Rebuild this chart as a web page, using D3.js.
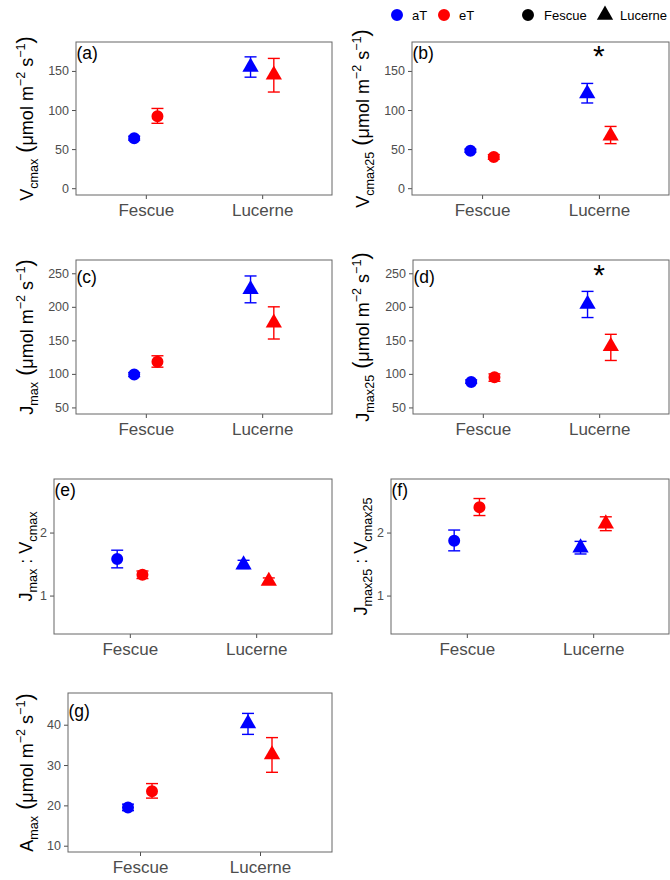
<!DOCTYPE html>
<html>
<head>
<meta charset="utf-8">
<script src="https://cdn.jsdelivr.net/npm/d3@7/dist/d3.min.js"></script>
<style>
  body { margin: 0; background: #fff; }
  svg { display: block; }
  text { font-family: "Liberation Sans", Arial, sans-serif; }
</style>
</head>
<body>
<div id="chart"></div>
<script>
// categories and treatments
const groups = ["Fescue", "Lucerne"];
const treatments = ["aT", "eT"];
const treatmentColours = ["#0000FF", "#FF0000"];

// values in order: Fescue aT, Fescue eT, Lucerne aT, Lucerne eT
const vcmaxMean = [64, 92, 155, 145];
const vcmaxLow = [61.5, 83, 142, 123];
const vcmaxHigh = [66.5, 102, 168, 166];

const vcmax25Mean = [48, 40, 121, 67];
const vcmax25Low = [46, 37, 109, 57];
const vcmax25High = [50, 43, 134, 79];

const jmaxMean = [99, 118, 226, 176];
const jmaxLow = [96, 110, 206, 152];
const jmaxHigh = [102, 127, 246, 200];

const jmax25Mean = [88, 95, 204, 141];
const jmax25Low = [86, 89, 184, 120];
const jmax25High = [91, 100, 223, 159];

const ratioMean = [1.58, 1.33, 1.49, 1.23];
const ratioLow = [1.44, 1.27, 1.43, 1.19];
const ratioHigh = [1.72, 1.39, 1.56, 1.28];

const ratio25Mean = [1.87, 2.4, 1.76, 2.14];
const ratio25Low = [1.71, 2.27, 1.66, 2.03];
const ratio25High = [2.04, 2.54, 1.86, 2.25];

const amaxMean = [19.5, 23.5, 40.3, 32.6];
const amaxLow = [18.7, 21.8, 37.6, 28.2];
const amaxHigh = [20.3, 25.4, 42.8, 36.8];

// tick labels
const ticksV = [0, 50, 100, 150];
const ticksJ = [50, 100, 150, 200, 250];
const ticksRatio = [1, 2];
const ticksA = [10, 20, 30, 40];

// significance stars (value on the y axis, at Lucerne)
const starVcmax25 = 177;
const starJmax25 = 256;

const unitParts = [
  [" (", "big"], ["μmol m", "n"], ["−2", "sup"], [" s", "n"], ["−1", "sup"], [")", "big"]
];

const panels = [
  { tag: "(a)", mean: vcmaxMean, low: vcmaxLow, high: vcmaxHigh, ticks: ticksV,
    yDomain: [-8.7, 187], box: [76, 42, 332, 195], titleX: 33, tagY: 17,
    title: [["V", "n"], ["cmax", "sub"]].concat(unitParts) },
  { tag: "(b)", mean: vcmax25Mean, low: vcmax25Low, high: vcmax25High, ticks: ticksV,
    yDomain: [-8.7, 187], box: [412, 42, 669, 195], titleX: 369, tagY: 17, star: starVcmax25,
    title: [["V", "n"], ["cmax25", "sub"]].concat(unitParts) },
  { tag: "(c)", mean: jmaxMean, low: jmaxLow, high: jmaxHigh, ticks: ticksJ,
    yDomain: [40.2, 269.8], box: [76, 260, 332, 414], titleX: 33, tagY: 23,
    title: [["J", "n"], ["max", "sub"]].concat(unitParts) },
  { tag: "(d)", mean: jmax25Mean, low: jmax25Low, high: jmax25High, ticks: ticksJ,
    yDomain: [40.2, 269.8], box: [413, 260, 669, 414], titleX: 369, tagY: 23, star: starJmax25,
    title: [["J", "n"], ["max25", "sub"]].concat(unitParts) },
  { tag: "(e)", mean: ratioMean, low: ratioLow, high: ratioHigh, ticks: ticksRatio,
    yDomain: [0.39, 2.85], box: [54, 479, 332, 634], titleX: 32, tagY: 16.5,
    title: [["J", "n"], ["max", "sub"], [" : V", "n"], ["cmax", "sub"]] },
  { tag: "(f)", mean: ratio25Mean, low: ratio25Low, high: ratio25High, ticks: ticksRatio,
    yDomain: [0.39, 2.85], box: [391, 479, 669, 634], titleX: 367, tagY: 16.5,
    title: [["J", "n"], ["max25", "sub"], [" : V", "n"], ["cmax25", "sub"]] },
  { tag: "(g)", mean: amaxMean, low: amaxLow, high: amaxHigh, ticks: ticksA,
    yDomain: [8.44, 47.86], box: [68, 693, 332, 852], titleX: 33, tagY: 24,
    title: [["A", "n"], ["max", "sub"]].concat(unitParts) }
];

const width = 670;
const height = 880;
const svg = d3.select("#chart").append("svg")
  .attr("width", width)
  .attr("height", height);

const borderColour = "#666";
const tickColour = "#4D4D4D";

panels.forEach((p) => {
  const [x0, y0, x1, y1] = p.box;
  const x = d3.scalePoint().domain(groups).range([x0, x1]).padding(0.6);
  const y = d3.scaleLinear().domain(p.yDomain).range([y1, y0]);
  const dodge = x.step() * 0.1;

  const g = svg.append("g");

  // y axis
  const yAxis = g.append("g")
    .attr("transform", `translate(${x0},0)`)
    .call(d3.axisLeft(y).tickValues(p.ticks).tickFormat(d3.format("~g")).tickSize(4).tickPadding(3));
  yAxis.select(".domain").remove();
  yAxis.selectAll("line").attr("stroke", tickColour);
  yAxis.selectAll("text")
    .attr("fill", tickColour)
    .style("font-size", "12.5px")
    .style("font-family", "'Liberation Sans', Arial, sans-serif");

  // x axis
  const xAxis = g.append("g")
    .attr("transform", `translate(0,${y1})`)
    .call(d3.axisBottom(x).tickSize(4).tickPadding(5));
  xAxis.select(".domain").remove();
  xAxis.selectAll("line").attr("stroke", tickColour);
  xAxis.selectAll("text")
    .attr("fill", tickColour)
    .style("font-size", "17px")
    .style("font-family", "'Liberation Sans', Arial, sans-serif");

  // panel border
  g.append("rect")
    .attr("x", x0).attr("y", y0)
    .attr("width", x1 - x0).attr("height", y1 - y0)
    .attr("fill", "none")
    .attr("stroke", borderColour)
    .attr("stroke-width", 1);

  // points table
  const rows = [];
  groups.forEach((grp, gi) => {
    treatments.forEach((tr, ti) => {
      const k = gi * 2 + ti;
      rows.push({
        group: grp, gi: gi, ti: ti,
        cx: x(grp) + (ti - 0.5) * 2 * dodge,
        mean: p.mean[k], low: p.low[k], high: p.high[k]
      });
    });
  });

  // error bars
  const bars = g.append("g").selectAll("g").data(rows).join("g")
    .attr("stroke", (d) => treatmentColours[d.ti])
    .attr("stroke-width", 1.4);
  bars.append("line")
    .attr("x1", (d) => d.cx).attr("x2", (d) => d.cx)
    .attr("y1", (d) => y(d.low)).attr("y2", (d) => y(d.high));
  bars.append("line")
    .attr("x1", (d) => d.cx - 6).attr("x2", (d) => d.cx + 6)
    .attr("y1", (d) => y(d.low)).attr("y2", (d) => y(d.low));
  bars.append("line")
    .attr("x1", (d) => d.cx - 6).attr("x2", (d) => d.cx + 6)
    .attr("y1", (d) => y(d.high)).attr("y2", (d) => y(d.high));

  // points: circle for Fescue, triangle for Lucerne
  g.append("g").selectAll("path").data(rows).join("path")
    .attr("transform", (d) => `translate(${d.cx},${y(d.mean)})`)
    .attr("d", (d) => d.gi === 0
      ? d3.symbol(d3.symbolCircle, 113)()
      : d3.symbol(d3.symbolTriangle, 115)())
    .attr("fill", (d) => treatmentColours[d.ti]);

  // panel tag
  g.append("text")
    .attr("x", x0 + 0.5)
    .attr("y", y0 + p.tagY)
    .attr("fill", "#000")
    .style("font-size", "17.5px")
    .text(p.tag);

  // significance star
  if (p.star !== undefined) {
    g.append("text")
      .attr("x", x("Lucerne"))
      .attr("y", y(p.star) + 16)
      .attr("text-anchor", "middle")
      .attr("fill", "#000")
      .style("font-size", "30px")
      .text("*");
  }

  // y axis title
  const fs = 18;
  const title = g.append("text")
    .attr("transform", `translate(${p.titleX},${(y0 + y1) / 2}) rotate(-90)`)
    .attr("text-anchor", "middle")
    .attr("fill", "#000")
    .style("font-size", fs + "px");
  let shift = 0;
  p.title.forEach(([t, kind]) => {
    let target = 0;
    let size = fs;
    if (kind === "sub") { target = fs * 0.25; size = fs * 0.7; }
    if (kind === "sup") { target = -fs * 0.42; size = fs * 0.7; }
    if (kind === "big") { target = -fs * 0.05; size = fs * 1.2; }
    title.append("tspan")
      .attr("dy", target - shift)
      .style("font-size", size + "px")
      .text(t);
    shift = target;
  });
});

// legend
const legend = svg.append("g").attr("transform", "translate(0,15)");
const legendItems = [
  { cx: 397, tx: 412, label: "aT", colour: treatmentColours[0], shape: d3.symbolCircle },
  { cx: 444, tx: 459, label: "eT", colour: treatmentColours[1], shape: d3.symbolCircle },
  { cx: 528, tx: 544, label: "Fescue", colour: "#000", shape: d3.symbolCircle },
  { cx: 605, tx: 620, label: "Lucerne", colour: "#000", shape: d3.symbolTriangle }
];
legendItems.forEach((d) => {
  legend.append("path")
    .attr("transform", `translate(${d.cx},0)`)
    .attr("d", d3.symbol(d.shape, d.shape === d3.symbolCircle ? 113 : 115)())
    .attr("fill", d.colour);
  legend.append("text")
    .attr("x", d.tx)
    .attr("y", 0)
    .attr("dy", "0.36em")
    .attr("fill", "#000")
    .style("font-size", "13px")
    .text(d.label);
});
</script>
</body>
</html>
